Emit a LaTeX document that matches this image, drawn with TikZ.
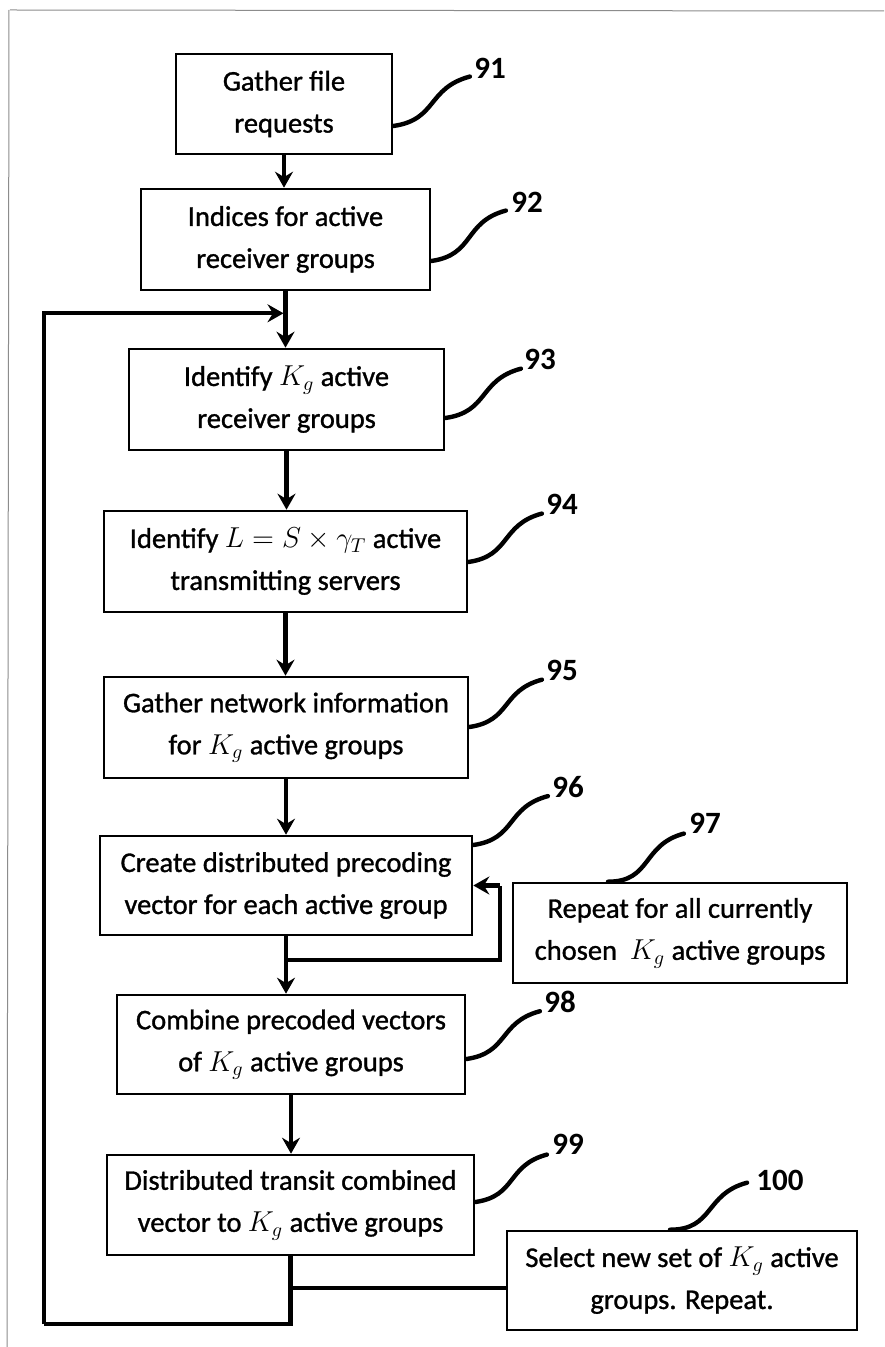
\documentclass[tikz,border=0pt]{standalone}
\usepackage{fontspec}
\setmainfont{Carlito}
\newfontfamily\boxfont{Carlito}[FakeBold=1.1]
\usetikzlibrary{arrows.meta,calc}

\begin{document}
\begin{tikzpicture}[x=0.5pt,y=-0.5pt,
  bx/.style 2 args={draw, line width=1.3pt, fill=white, inner sep=0pt,
    minimum width=#1*0.5pt, minimum height=#2*0.5pt, align=center,
    font=\boxfont\fontsize{14.25pt}{21pt}\selectfont},
  refnum/.style={inner sep=0pt, font=\bfseries\fontsize{15.5pt}{16pt}\selectfont},
  conn/.style={line width=2.1pt},
  flow/.style={conn, -{Stealth[length=8pt,width=9pt,inset=2.7pt]}},
  lead/.style={line width=2.2pt, line cap=round, out=8, in=195, looseness=1.25},
  frameline/.style={draw=black!45, line width=0.5pt}]

  % page area and the thin scan frame
  \fill[white] (0,0) rectangle (884,1347);
  \useasboundingbox (0,0) rectangle (884,1347);
  \draw[frameline] (10,10) -- (884,11);
  \draw[frameline] (9,10) -- (7,1347);

  % process steps
  \node[bx={216}{100}] (b1) at (284,104) {Gather file\\requests};
  \node[bx={289}{101}] (b2) at (285.5,239.5) {Indices for active\\receiver groups};
  \node[bx={315}{101}] (b3) at (286.5,399.5) {Identify $K_g$ active\\receiver groups};
  \node[bx={363}{101}] (b4) at (285.5,561.5) {Identify $L = S\times\gamma_T$ active\\transmitting servers};
  \node[bx={364}{101}] (b5) at (286,727.5) {Gather network information\\for $K_g$ active groups};
  \node[bx={372}{99}]  (b6) at (286,885.5) {Create distributed precoding\\vector for each active group};
  \node[bx={334}{100}] (b7) at (680,933) {Repeat for all currently\\chosen\ \ $K_g$ active groups};
  \node[bx={348}{99}]  (b8) at (291,1044.5) {Combine precoded vectors\\of $K_g$ active groups};
  \node[bx={367}{100}] (b9) at (290.5,1205) {Distributed transit combined\\vector to $K_g$ active groups};
  \node[bx={350}{99}]  (b10) at (682,1280.5) {Select new set of $K_g$ active\\groups. Repeat.};

  % reference numerals
  \node[refnum] (n91) at (490,68) {91};
  \node[refnum] (n92) at (527,202) {92};
  \node[refnum] (n93) at (540,359) {93};
  \node[refnum] (n94) at (562,504) {94};
  \node[refnum] (n95) at (562,670) {95};
  \node[refnum] (n96) at (568,787) {96};
  \node[refnum] (n97) at (705,823) {97};
  \node[refnum] (n98) at (560,1002) {98};
  \node[refnum] (n99) at (568,1144) {99};
  \node[refnum] (n100) at (780,1180) {100};

  % main flow
  \draw[flow] (b1.south) -- (b1.south |- b2.north);
  \draw[flow] (b2.south) -- (b2.south |- b3.north);
  \draw[flow] (b3.south) -- (b3.south |- b4.north);
  \draw[flow] (b4.south) -- (b4.south |- b5.north);
  \draw[flow] (b5.south) -- (b5.south |- b6.north);
  \draw[flow] (b6.south) -- (b6.south |- b8.north);
  \draw[flow] (b8.south) -- (b8.south |- b9.north);

  % inner loop back into the precoding step
  \coordinate (j1) at ($(b6.south)+(0,24)$);
  \coordinate (r1) at ($(b6.east)+(27,0)$);
  \draw[conn] (j1) -| (r1);
  \draw[flow] (r1) -- (b6.east);

  % outer loop back to the top of the group selection
  \coordinate (j2) at ($(b9.south)+(0,32)$);
  \coordinate (ret) at ($(b2.south)+(-2,22)$);
  \coordinate (corner) at (44,1324);
  \draw[conn] (b9.south) -- (b9.south |- corner) -- (corner);
  \draw[flow] (corner) |- (ret);
  \draw[conn] (j2) -- (j2 -| b10.west);

  % leaders to reference numerals
  \draw[lead] ($(b1.east)+(0,22)$) to ($(n91.south west)+(-4,-2)$);
  \draw[lead] ($(b2.east)+(0,21.5)$) to ($(n92.south west)+(-5,-2)$);
  \draw[lead] ($(b3.east)+(0,18.5)$) to ($(n93.south west)+(-3,-1)$);
  \draw[lead] ($(b4.east)+(0,0.5)$) to ($(n94.south west)+(-4,-1)$);
  \draw[lead] ($(b5.east)+(0,-0.5)$) to ($(n95.south west)+(-4,-1)$);
  \draw[lead] ($(b6.east)+(0,-40.5)$) to ($(n96.south west)+(-4,-2)$);
  \draw[lead, out=0] ($(b7.north)+(-72,0)$) to ($(n97.south west)+(-5,0)$);
  \draw[lead] ($(b8.east)+(0,14.5)$) to ($(n98.south west)+(-4,-2)$);
  \draw[lead] ($(b9.east)+(0,-3)$) to ($(n99.south west)+(-5,0)$);
  \draw[lead, out=0] ($(b10.north)+(-12,0)$) to ($(n100.south west)+(-9,-8)$);
\end{tikzpicture}
\end{document}
